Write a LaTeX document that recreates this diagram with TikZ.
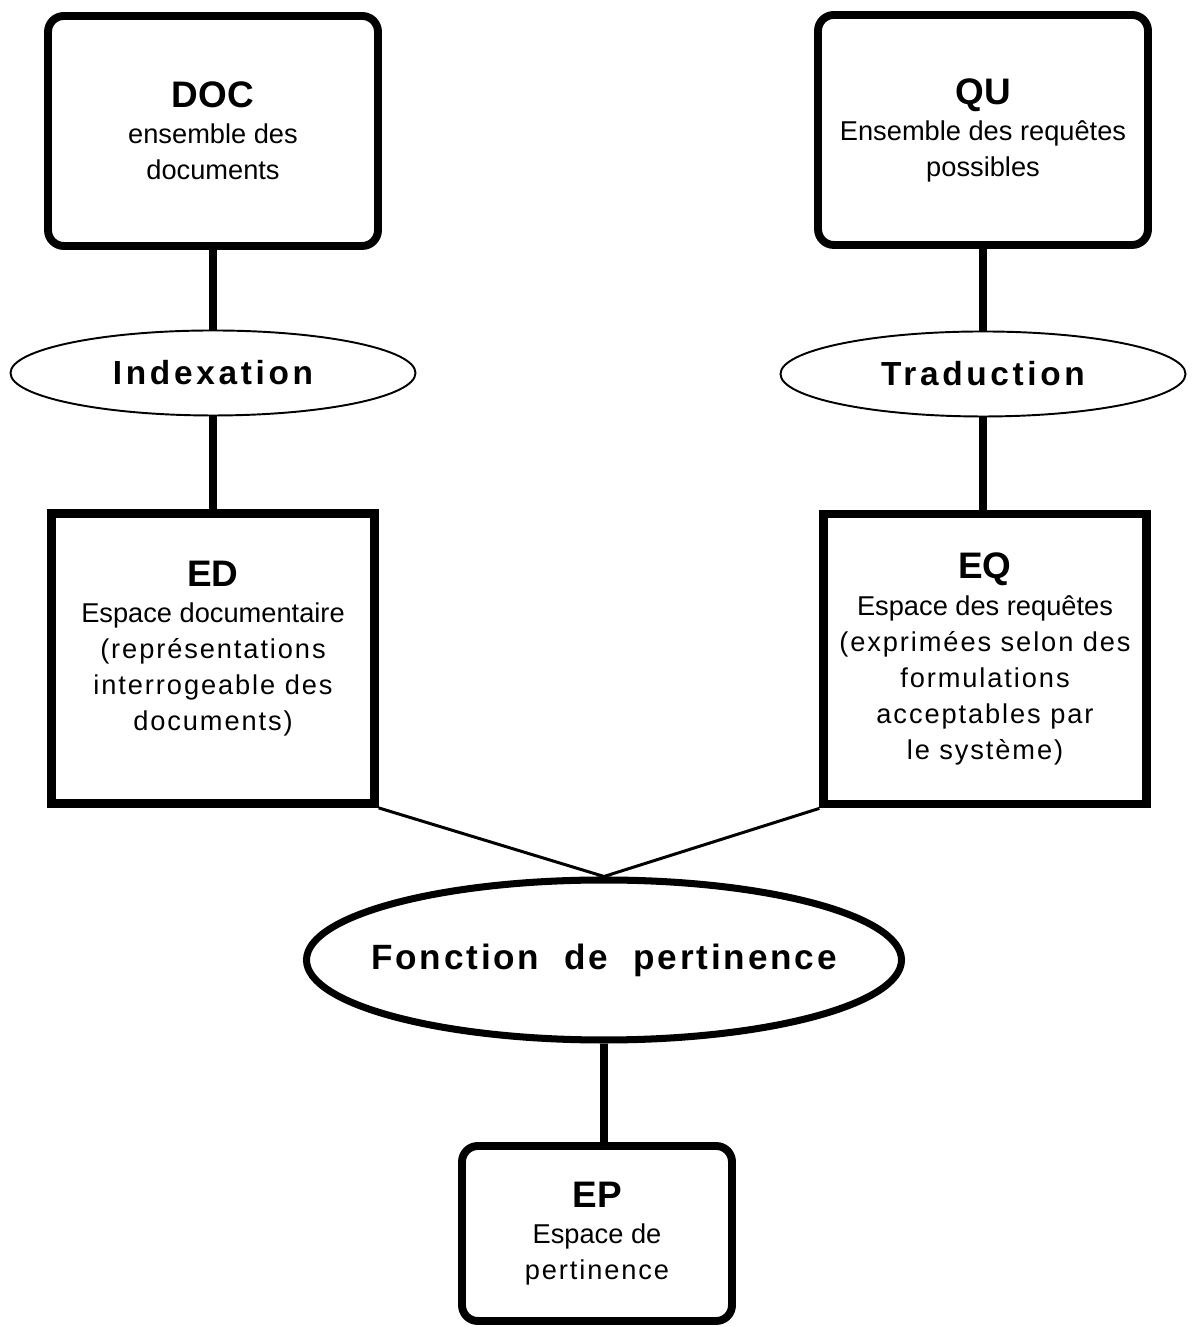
\documentclass[tikz,border=0pt]{standalone}
\usepackage{fontspec}
\setmainfont{Liberation Sans}
\usepackage{tikz}
\usetikzlibrary{shapes,positioning,calc}
\newcommand{\spaced}{\addfontfeature{LetterSpace=7}}
\newcommand{\wide}{\addfontfeature{LetterSpace=11}}

\begin{document}
\begin{tikzpicture}[
        box/.style={rectangle, draw=black, line width=4.5pt, rounded corners=9pt, minimum width=6.6cm, align=center, font=\fontsize{15.5}{20.5}\selectfont},
        flatbox/.style={rectangle, draw=black, line width=5pt, minimum width=6.45cm, minimum height=5.8cm, align=center, font=\fontsize{15.5}{20.5}\selectfont},
        process/.style={ellipse, draw=black, line width=1.1pt, minimum width=8.1cm, minimum height=1.7cm, font=\fontsize{19}{22}\selectfont\bfseries\wide},
        link/.style={line width=4.5pt},
        thinlink/.style={line width=1.7pt}]

        \useasboundingbox (0,0) rectangle (23.94,26.54);

        % Documents side
        \node[box, minimum height=4.6cm] (DOC) at (4.26,23.92) {{\fontsize{21}{26}\selectfont\bfseries DOC}\\ensemble des\\documents};
        \node[process] (IDX) at (4.26,19.08) {Indexation};
        \node[flatbox] (ED) at (4.26,13.37) {{\fontsize{21}{26}\selectfont\bfseries ED}\\Espace documentaire\\{\spaced(représentations}\\{\spaced interrogeable des}\\{\spaced documents)}\\[-6pt]};

        % Requetes side
        \node[box, minimum height=4.6cm] (QU) at (19.66,23.94) {{\fontsize{21}{26}\selectfont\bfseries QU}\\Ensemble des requêtes\\possibles};
        \node[process] (TRA) at (19.66,19.06) {Traduction};
        \node[flatbox] (EQ) at (19.7,13.36) {{\fontsize{21}{26}\selectfont\bfseries EQ}\\Espace des requêtes\\{\spaced(exprimées selon des}\\{\spaced formulations}\\{\spaced acceptables par}\\{\spaced le système)}};

        % Pertinence
        \node[ellipse, draw=black, line width=4pt, inner xsep=-0.6cm, minimum width=11.9cm, minimum height=3.2cm, font=\fontsize{20}{24}\selectfont\bfseries\addfontfeature{LetterSpace=8}] (FP) at (12.08,7.34) {Fonction\ \ de\ \ pertinence};
        \node[box, minimum width=5.4cm, minimum height=3.5cm] (EP) at (11.94,1.87) {{\fontsize{21}{26}\selectfont\bfseries EP}\\Espace de\\{\spaced pertinence}};

        % Paths
        \draw[link] (DOC) -- (IDX);
        \draw[link] (IDX) -- (ED);
        \draw[link] (QU) -- (TRA);
        \draw[link] (TRA) -- (TRA |- EQ.north);
        \draw[thinlink] (ED.south east) -- (FP.north);
        \draw[thinlink] (EQ.south west) -- (FP.north);
        \draw[link] (FP) -- (FP |- EP.north);

\end{tikzpicture}
\end{document}
